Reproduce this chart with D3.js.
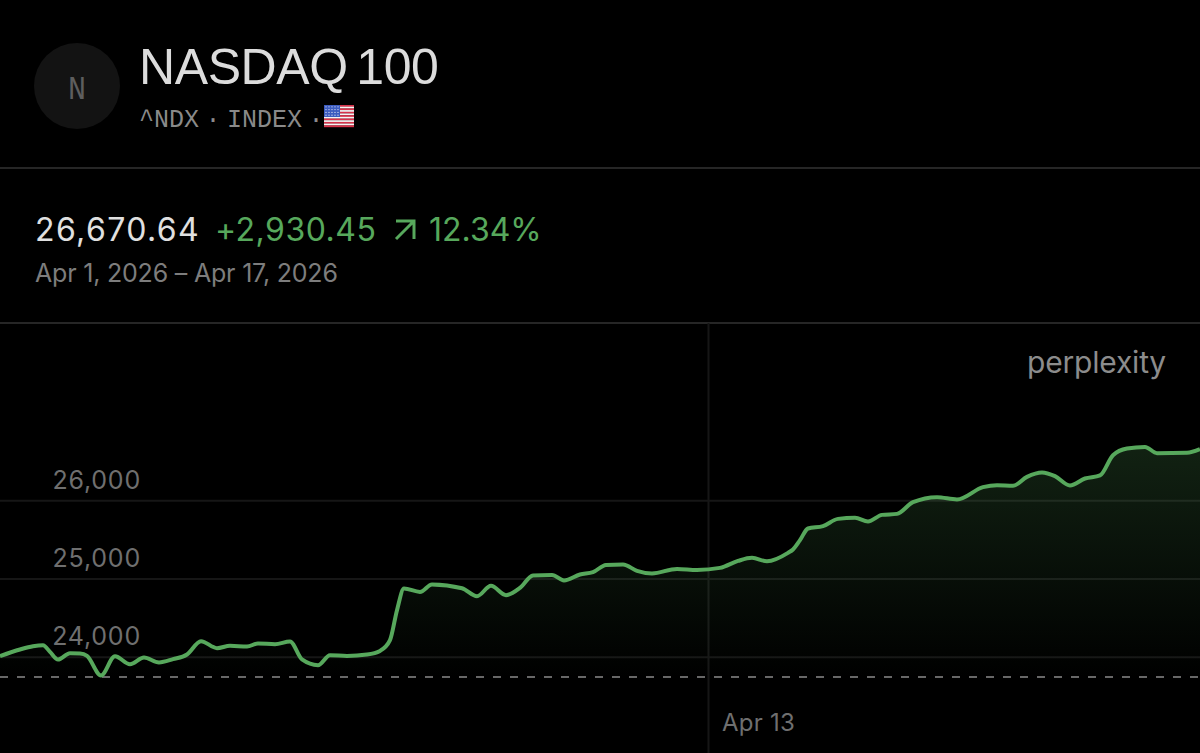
<!DOCTYPE html>
<html>
<head>
<meta charset="utf-8">
<script src="https://cdnjs.cloudflare.com/ajax/libs/d3/7.8.5/d3.min.js"></script>
<style>
html, body { margin: 0; background: #000; overflow: hidden; }
svg { display: block; }
text { font-family: Inter, "Liberation Sans", sans-serif; }
</style>
</head>
<body>
<svg width="1200" height="753"></svg>
<script>
// chart values. sessions = trading sessions since Apr 1
var sessions = [0, 0.2, 0.33, 0.43, 0.5, 0.58, 0.7, 0.8, 0.87, 1.01, 1.15, 1.3, 1.44, 1.59, 1.73, 1.87, 2.01, 2.17, 2.3, 2.47, 2.58, 2.75, 2.9, 3.02, 3.18, 3.3, 3.47, 3.67, 3.8, 3.9, 3.97, 4.04, 4.2, 4.32, 4.62, 4.77, 4.91, 5.06, 5.2, 5.33, 5.52, 5.64, 5.8, 5.93, 6.06, 6.23, 6.37, 6.52, 6.77, 6.97, 7.2, 7.38, 7.52, 7.67, 7.88, 7.93, 8.0, 8.08, 8.23, 8.38, 8.55, 8.68, 8.82, 8.97, 9.13, 9.37, 9.57, 9.83, 9.97, 10.13, 10.27, 10.42, 10.55, 10.7, 10.85, 11.0, 11.13, 11.27, 11.45, 11.57, 11.87, 12];
var prices = [24006, 24092, 24134, 24147, 24061, 23964, 24045, 24041, 24010, 23760, 24006, 23904, 23990, 23926, 23968, 24028, 24198, 24109, 24138, 24130, 24169, 24160, 24194, 23964, 23891, 24019, 24010, 24028, 24074, 24211, 24594, 24872, 24828, 24923, 24875, 24773, 24905, 24786, 24879, 25038, 25045, 24974, 25050, 25080, 25173, 25178, 25097, 25063, 25122, 25109, 25135, 25224, 25263, 25220, 25327, 25370, 25489, 25638, 25668, 25761, 25774, 25728, 25812, 25825, 25974, 26038, 26009, 26166, 26192, 26183, 26298, 26354, 26307, 26188, 26277, 26316, 26575, 26661, 26681, 26601, 26605, 26652];
var prevClose = 23740.19;
var yTicks = [24000, 25000, 26000];
var xTicks = [7.08];
var xTickLabels = ["Apr 13"];

var green = "#57a85c";

var svg = d3.select("svg");

var xScale = d3.scaleLinear().domain([0, 12]).range([0, 1200]);
var yScale = d3.scaleLinear().domain([23740.19, 26670.64]).range([677, 447.7]);

// header
svg.append("circle").attr("cx", 77).attr("cy", 86).attr("r", 43).attr("fill", "#131313");
svg.append("text").attr("x", 68).attr("y", 99)
   .attr("font-size", 34).attr("fill", "#5e5e5e")
   .attr("textLength", 18).attr("lengthAdjust", "spacingAndGlyphs")
   .style("font-family", "'Liberation Mono', monospace").text("N");

svg.append("text").attr("x", 139).attr("y", 84)
   .attr("font-size", 50).attr("letter-spacing", -0.4).attr("word-spacing", -5).attr("fill", "#dcdcdc")
   .style("font-family", "'Liberation Sans', sans-serif")
   .text("NASDAQ 100");

svg.append("text").attr("x", 139).attr("y", 127)
   .attr("font-size", 25).attr("word-spacing", -8.5).attr("fill", "#8a8a8a")
   .style("font-family", "'Liberation Mono', monospace")
   .text("^NDX · INDEX ·");

// flag
var flag = svg.append("g").attr("transform", "translate(324,105)");
d3.range(13).forEach(function(i) {
    flag.append("rect").attr("x", 0).attr("y", i * 22 / 13).attr("width", 30).attr("height", 22 / 13 + 0.2)
        .attr("fill", i % 2 ? "#f4f4f4" : "#d8324a");
});
flag.append("rect").attr("width", 16).attr("height", 12).attr("fill", "#3c5cc0");
d3.range(4).forEach(function(r) {
    d3.range(5).forEach(function(c) {
        flag.append("circle").attr("cx", 2 + c * 3).attr("cy", 1.8 + r * 2.8).attr("r", 0.6).attr("fill", "#e8e8f4");
    });
});

svg.append("line").attr("x1", 0).attr("x2", 1200).attr("y1", 168).attr("y2", 168).attr("stroke", "#262626").attr("stroke-width", 2);
svg.append("line").attr("x1", 0).attr("x2", 1200).attr("y1", 323).attr("y2", 323).attr("stroke", "#262626").attr("stroke-width", 2);

// price summary
svg.append("text").attr("x", 35).attr("y", 240.5).attr("font-size", 32).attr("letter-spacing", 1.4).attr("fill", "#e0e0e0").text("26,670.64");
svg.append("text").attr("x", 215).attr("y", 240.5).attr("font-size", 32).attr("letter-spacing", 0.5).attr("fill", green).text("+2,930.45");
svg.append("path").attr("d", "M396,221 L414,221 L414,239 M414,221 L396,239")
   .attr("fill", "none").attr("stroke", green).attr("stroke-width", 3);
svg.append("text").attr("x", 429).attr("y", 240.5).attr("font-size", 32).attr("fill", green).text("12.34%");
svg.append("text").attr("x", 35).attr("y", 282).attr("font-size", 25).attr("letter-spacing", -0.2).attr("fill", "#7d7d7d").text("Apr 1, 2026 – Apr 17, 2026");

svg.append("text").attr("x", 1166).attr("y", 373).attr("text-anchor", "end")
   .attr("font-size", 30).attr("letter-spacing", -0.2).attr("fill", "#8c8c8c").text("perplexity");

// axes
var yAxis = svg.append("g")
   .call(d3.axisLeft(yScale).tickValues(yTicks).tickSize(-1200).tickFormat(d3.format(",")));
yAxis.select(".domain").remove();
yAxis.selectAll("line").attr("stroke", "#161616").attr("stroke-width", 2);
yAxis.selectAll("text")
   .attr("x", 141).attr("y", -12).attr("dy", 0).attr("text-anchor", "end")
   .attr("font-size", 25).attr("letter-spacing", 0.8).attr("fill", "#6f6f6f")
   .style("font-family", "Inter, 'Liberation Sans', sans-serif");

var xAxis = svg.append("g")
   .attr("transform", "translate(0,753)")
   .call(d3.axisBottom(xScale).tickValues(xTicks).tickSize(-430).tickFormat(function(d, i) { return xTickLabels[i]; }));
xAxis.select(".domain").remove();
xAxis.selectAll("line").attr("stroke", "#161616").attr("stroke-width", 2);
xAxis.selectAll("text")
   .attr("x", 50).attr("y", -22).attr("dy", 0)
   .attr("font-size", 24).attr("letter-spacing", 0.2).attr("fill", "#6f6f6f")
   .style("font-family", "Inter, 'Liberation Sans', sans-serif");

// area + line
var points = sessions.map(function(s, i) { return { s: s, p: prices[i] }; });

var grad = svg.append("defs").append("linearGradient").attr("id", "fillGrad")
   .attr("gradientUnits", "userSpaceOnUse")
   .attr("x1", 0).attr("x2", 0).attr("y1", 447).attr("y2", 677);
grad.append("stop").attr("offset", 0).attr("stop-color", green).attr("stop-opacity", 0.2);
grad.append("stop").attr("offset", 1).attr("stop-color", green).attr("stop-opacity", 0);

var area = d3.area().curve(d3.curveMonotoneX)
   .x(function(d) { return xScale(d.s); })
   .y0(yScale(prevClose))
   .y1(function(d) { return yScale(d.p); });
var line = d3.line().curve(d3.curveMonotoneX)
   .x(function(d) { return xScale(d.s); })
   .y(function(d) { return yScale(d.p); });

svg.append("path").datum(points).attr("d", area).attr("fill", "url(#fillGrad)");

svg.append("line").attr("x1", 0).attr("x2", 1200)
   .attr("y1", yScale(prevClose)).attr("y2", yScale(prevClose))
   .attr("stroke", "#8a8a8a").attr("stroke-width", 1.5).attr("stroke-dasharray", "8 9");

svg.append("path").datum(points).attr("d", line)
   .attr("fill", "none").attr("stroke", green).attr("stroke-width", 4).attr("stroke-linejoin", "round");
</script>
</body>
</html>
